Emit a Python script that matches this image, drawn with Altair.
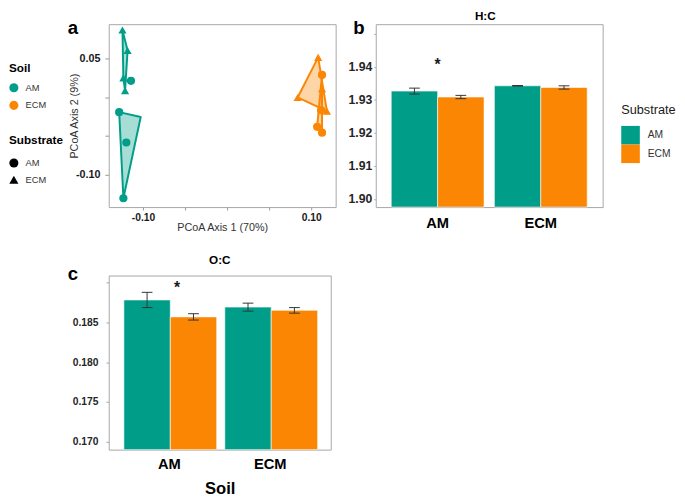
import altair as alt
import pandas as pd

TEAL = "#009E88"
ORANGE = "#FA8603"
FONT = "Liberation Sans"

level_colors = [TEAL, ORANGE]      # AM, ECM (alphabetical order of the categories)
level_shapes = ["circle", "triangle-up"]

# ---------------- panel a : PCoA scores ----------------
pcoa_soil = ["AM"] * 8 + ["ECM"] * 8
pcoa_substrate = ["ECM"] * 4 + ["AM"] * 4 + ["ECM"] * 4 + ["AM"] * 4
pcoa_axis1 = [-0.1244, -0.1183, -0.1233, -0.1213,
              -0.1143, -0.1283, -0.1198, -0.1233,
              0.1082, 0.0838, 0.1128, 0.1186,
              0.1128, 0.1117, 0.1070, 0.1128]
pcoa_axis2 = [0.0865, 0.0600, 0.0248, 0.0084,
              0.0210, -0.0193, -0.0584, -0.1302,
              0.0513, -0.0004, 0.0109, -0.0180,
              0.0286, -0.0168, -0.0382, -0.0458]

hull_group = ["AM/ECM"] * 4 + ["AM/AM"] * 3 + ["ECM/ECM"] * 3 + ["ECM/AM"] * 3
hull_soil = ["AM"] * 7 + ["ECM"] * 6
hull_axis1 = [-0.1244, -0.1183, -0.1213, -0.1233,
              -0.1283, -0.1027, -0.1233,
              0.1082, 0.1186, 0.0838,
              0.1128, 0.1128, 0.1070]
hull_axis2 = [0.0865, 0.0600, 0.0084, 0.0248,
              -0.0193, -0.0256, -0.1302,
              0.0513, -0.0180, -0.0004,
              0.0286, -0.0458, -0.0382]
hull_vertex = [0, 1, 2, 3, 0, 1, 2, 0, 1, 2, 0, 1, 2]

a_x_domain = [-0.1407, 0.129]
a_y_domain = [-0.1416, 0.094]
a_x_ticks = [-0.10, -0.05, 0.0, 0.05, 0.10]
a_x_labels = ["-0.10", "", "", "", "0.10"]
a_y_ticks = [-0.10, -0.05, 0.0, 0.05]
a_y_labels = ["-0.10", "", "", "0.05"]

# ---------------- panels b, c : bar charts ----------------
bar_soil = ["AM", "AM", "ECM", "ECM"]
bar_substrate = ["AM", "ECM", "AM", "ECM"]
hc_mean = [1.9327, 1.9309, 1.9343, 1.9338]
hc_se = [0.0009, 0.0005, 0.0001, 0.0005]
oc_mean = [0.18783, 0.18570, 0.18693, 0.18652]
oc_se = [0.00096, 0.00040, 0.00050, 0.00035]
star_soil = ["AM"]
hc_star = [1.9415]
oc_star = [0.18963]

hc_domain = [1.8975, 1.953]
hc_ticks = [1.90, 1.91, 1.92, 1.93, 1.94, 1.95]
hc_labels = ["1.90", "1.91", "1.92", "1.93", "1.94", ""]
oc_domain = [0.169, 0.1909]
oc_ticks = [0.170, 0.175, 0.180, 0.185, 0.190]
oc_labels = ["0.170", "0.175", "0.180", "0.185", ""]


def label_expr(ticks, labels):
    expr = "''"
    for t, l in zip(ticks, labels):
        expr = f"abs(datum.value - ({t})) < 1e-9 ? '{l}' : ({expr})"
    return expr


def text_layer(text, x, y, size, align="left"):
    return alt.Chart(pd.DataFrame({"lab": [text]})).mark_text(
        font=FONT, fontSize=size, fontWeight="bold", align=align, baseline="middle", color="black"
    ).encode(x=alt.value(x), y=alt.value(y), text="lab:N")


# ---- panel a
pcoa_df = pd.DataFrame({"soil": pcoa_soil, "substrate": pcoa_substrate,
                        "axis1": pcoa_axis1, "axis2": pcoa_axis2})
hull_df = pd.DataFrame({"group": hull_group, "hull_soil": hull_soil, "axis1": hull_axis1,
                        "axis2": hull_axis2, "vertex": hull_vertex})

a_x = alt.X("axis1:Q", scale=alt.Scale(domain=a_x_domain, nice=False, zero=False),
            axis=alt.Axis(values=a_x_ticks, labelExpr=label_expr(a_x_ticks, a_x_labels),
                          title="PCoA Axis 1 (70%)", titleFont=FONT, titleFontSize=11,
                          titleFontWeight="normal", titleColor="#333333",
                          titleY=21, titleBaseline="middle", labelOverlap=False,
                          labelFont=FONT, labelFontSize=10.5, labelFontWeight="bold",
                          labelColor="#1a1a1a", labelPadding=3, tickSize=3,
                          tickColor="#999999", domain=False, grid=False))
a_y = alt.Y("axis2:Q", scale=alt.Scale(domain=a_y_domain, nice=False, zero=False),
            axis=alt.Axis(values=a_y_ticks, labelExpr=label_expr(a_y_ticks, a_y_labels),
                          title="PCoA Axis 2 (9%)", titleFont=FONT, titleFontSize=11,
                          titleFontWeight="normal", titleColor="#333333",
                          titleX=-35, titleBaseline="middle", labelOverlap=False,
                          labelFont=FONT, labelFontSize=11, labelFontWeight="bold",
                          labelColor="#1a1a1a", labelPadding=5, tickSize=4,
                          tickColor="#999999", domain=False, grid=False))

hulls = alt.Chart(hull_df).mark_line(
    interpolate="linear-closed", strokeWidth=2, fillOpacity=0.35, strokeJoin="round"
).encode(
    x=a_x, y=a_y,
    stroke=alt.Stroke("hull_soil:N", scale=alt.Scale(range=level_colors), legend=None),
    fill=alt.Fill("hull_soil:N", scale=alt.Scale(range=level_colors), legend=None),
    detail="group:N",
    order=alt.Order("vertex:Q"),
)

points = alt.Chart(pcoa_df).mark_point(filled=True, opacity=1, size=70).encode(
    x=a_x, y=a_y,
    color=alt.Color("soil:N", scale=alt.Scale(range=level_colors),
                    legend=alt.Legend(title="Soil", orient="none", legendX=-102, legendY=40,
                                      titleFont=FONT, titleFontSize=12, titleFontWeight="bold",
                                      titleColor="black", labelFont=FONT, labelFontSize=9.5,
                                      labelColor="#333333", symbolType="circle", symbolSize=86,
                                      symbolStrokeWidth=0, titlePadding=8, rowPadding=8,
                                      labelOffset=7)),
    shape=alt.Shape("substrate:N", scale=alt.Scale(range=level_shapes),
                    legend=alt.Legend(title="Substrate", orient="none", legendX=-102, legendY=113,
                                      titleFont=FONT, titleFontSize=12, titleFontWeight="bold",
                                      titleColor="black", labelFont=FONT, labelFontSize=9.5,
                                      labelColor="#333333", symbolSize=86,
                                      symbolFillColor="black", symbolStrokeColor="black",
                                      symbolStrokeWidth=0, titlePadding=12, rowPadding=7,
                                      labelOffset=7)),
)

panel_a = alt.layer(hulls, points, text_layer("a", -42, 4, 19)).properties(width=232, height=187)


# ---- bar panels
def bar_panel(mean, se, star_y, y_domain, y_ticks, y_labels, y_label_size, y_tick, y_pad,
              title, title_dx, title_y, letter, letter_x, letter_y, width, height, legend,
              x_label_pad, x_title, star_dx):
    df = pd.DataFrame({"soil": bar_soil, "substrate": bar_substrate, "mean": mean,
                       "lo": [m - s for m, s in zip(mean, se)],
                       "hi": [m + s for m, s in zip(mean, se)]})
    x = alt.X("soil:N", scale=alt.Scale(paddingInner=0.1, paddingOuter=0.15),
              axis=alt.Axis(title=x_title, labelAngle=0, labelFont=FONT, labelFontSize=15,
                            labelFontWeight="bold", labelColor="black", labelPadding=x_label_pad,
                            ticks=False, tickSize=0, domain=False, grid=False,
                            titleFont=FONT, titleFontSize=17, titleFontWeight="bold",
                            titleColor="black", titleY=40, titleBaseline="middle"))
    xoff = alt.XOffset("substrate:N", scale=alt.Scale(paddingInner=0, paddingOuter=0))
    yscale = alt.Scale(domain=y_domain, nice=False, zero=False)
    yaxis = alt.Axis(values=y_ticks, labelExpr=label_expr(y_ticks, y_labels), title=None,
                     labelFont=FONT, labelFontSize=y_label_size, labelFontWeight="bold",
                     labelColor="#262626", labelPadding=y_pad, tickSize=y_tick, labelOverlap=False,
                     tickColor="#aaaaaa", domain=False, grid=False)
    bars = alt.Chart(df).mark_bar(stroke="white", strokeWidth=0.6).encode(
        x=x, xOffset=xoff, y=alt.Y("mean:Q", scale=yscale, axis=yaxis), y2=alt.datum(y_domain[0]),
        color=alt.Color("substrate:N", scale=alt.Scale(range=level_colors), legend=legend))
    rules = alt.Chart(df).mark_rule(color="#333333", strokeWidth=1).encode(
        x=x, xOffset=xoff, y=alt.Y("lo:Q", scale=yscale, axis=yaxis), y2="hi:Q")
    cap_lo = alt.Chart(df).mark_tick(color="#333333", size=11, thickness=1, opacity=1).encode(
        x=x, xOffset=xoff, y=alt.Y("lo:Q", scale=yscale, axis=yaxis))
    cap_hi = alt.Chart(df).mark_tick(color="#333333", size=11, thickness=1, opacity=1).encode(
        x=x, xOffset=xoff, y=alt.Y("hi:Q", scale=yscale, axis=yaxis))
    stars = alt.Chart(pd.DataFrame({"soil": star_soil, "y": star_y, "t": ["*"]})).mark_text(
        font=FONT, fontSize=16, fontWeight="bold", baseline="middle", dx=star_dx, dy=3, color="#1a1a1a"
    ).encode(x=x, y=alt.Y("y:Q", scale=yscale, axis=yaxis), text="t:N")
    return alt.layer(bars, rules, cap_lo, cap_hi, stars,
                     text_layer(letter, letter_x, letter_y, 19),
                     text_layer(title, width / 2 + title_dx, title_y, 12, align="center")).properties(
        width=width, height=height)


legend_b = alt.Legend(title="Substrate", orient="none", legendX=251, legendY=82,
                      titleFont=FONT, titleFontSize=13, titleFontWeight="normal",
                      titleColor="#1a1a1a", labelFont=FONT, labelFontSize=10.5,
                      labelColor="#333333", symbolType="square", symbolSize=361,
                      symbolStrokeWidth=0, rowPadding=0, labelOffset=8, titlePadding=9)

panel_b = bar_panel(hc_mean, hc_se, hc_star, hc_domain, hc_ticks, hc_labels, 12.5, 2, 2,
                    "H:C", -4, -8, "b", -23, 4, 232, 187, legend_b, 9, None, 0)
panel_c = bar_panel(oc_mean, oc_se, oc_star, oc_domain, oc_ticks, oc_labels, 10.5, 3, 8,
                    "O:C", 0, -16, "c", -42, -1, 227, 178, None, 7.5, "Soil", 8)

chart = alt.concat(panel_a, panel_b, panel_c, columns=2,
                   spacing={"row": 70, "column": 41}, bounds="flush").resolve_scale(
    color="independent", shape="independent", stroke="independent", fill="independent"
).properties(padding={"top": -4, "left": 0, "right": 0, "bottom": 0}).configure(
    font=FONT).configure_axis(labelOverlap=False).configure_view(stroke="#a6a6a6", strokeWidth=1)

chart.save("out.html", embed_options={"renderer": "svg", "actions": False})
